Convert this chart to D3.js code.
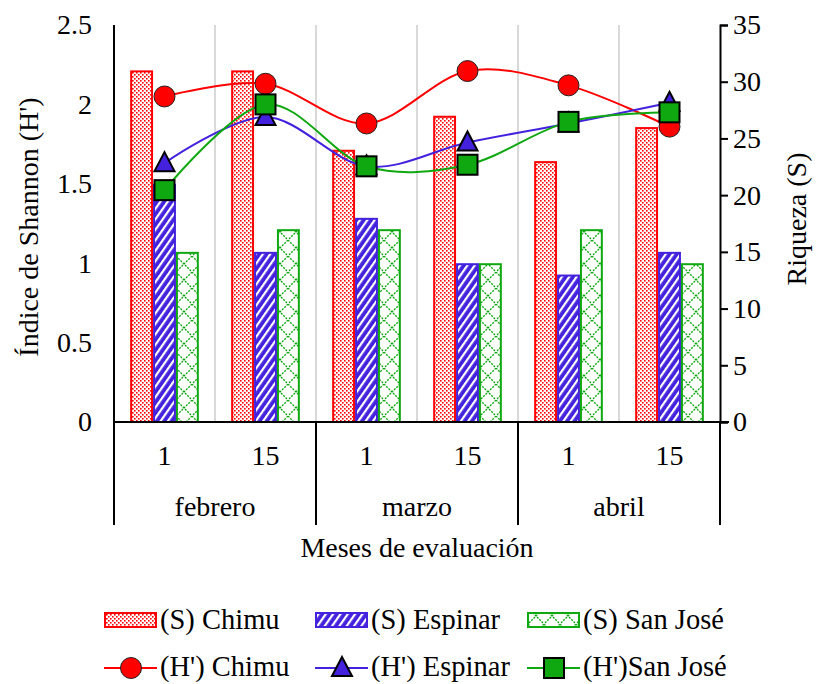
<!DOCTYPE html>
<html><head><meta charset="utf-8">
<script src="https://cdn.jsdelivr.net/npm/d3@7"></script>
</head><body style="margin:0"><svg id="c" width="818" height="684" style="font-family:'Liberation Serif'"></svg>
<script>
const dates = ["1","15","1","15","1","15"];
const months = ["febrero","marzo","abril"];
const seriesNames = ["Chimu","Espinar","San José"];
const S_chimu   = [31, 31, 24, 27, 23, 26];
const S_espinar = [21, 15, 18, 14, 13, 15];
const S_sanjose = [15, 17, 17, 14, 17, 14];
const H_chimu   = [2.05, 2.13, 1.88, 2.21, 2.12, 1.86];
const H_espinar = [1.63, 1.92, 1.61, 1.76, 1.88, 2.01];
const H_sanjose = [1.46, 2.00, 1.61, 1.62, 1.89, 1.95];
const leftTicks = [0,0.5,1,1.5,2,2.5];
const rightTicks = [0,5,10,15,20,25,30,35];

const FONT = "'Liberation Serif'";
const FS = 28;
const RED="#FF0000", BLUE="#4422DD", GREEN="#10A810";
const svg = d3.select("#c");
const L=114, R=720, T=25, B=422;
const idx = d3.range(6);
const x = d3.scaleBand().domain(idx).range([L,R]).paddingInner(0.32).paddingOuter(0.16);
const xg = d3.scaleBand().domain(idx).range([L,R]);
const xi = d3.scaleBand().domain([0,1,2]).range([0,x.bandwidth()]);
const yL = d3.scaleLinear().domain([0,2.5]).range([B,T]);
const yR = d3.scaleLinear().domain([0,35]).range([B,T]);

function txt(sel,fs){ return sel.attr("font-family","Liberation Serif").style("font-family",FONT).style("font-size",(fs||FS)+"px").attr("fill","#000"); }

// patterns
const defs = svg.append("defs");
const p1 = defs.append("pattern").attr("id","pDots").attr("patternUnits","userSpaceOnUse").attr("width",4).attr("height",4);
p1.append("rect").attr("width",4).attr("height",4).attr("fill","#fff");
p1.append("rect").attr("x",0).attr("y",0).attr("width",1.6).attr("height",1.6).attr("fill",RED);
p1.append("rect").attr("x",2).attr("y",2).attr("width",1.6).attr("height",1.6).attr("fill",RED);
const p2 = defs.append("pattern").attr("id","pDiag").attr("patternUnits","userSpaceOnUse").attr("width",6).attr("height",6).attr("patternTransform","rotate(35)");
p2.append("rect").attr("width",6).attr("height",6).attr("fill",BLUE);
p2.append("rect").attr("x",0).attr("y",0).attr("width",2.2).attr("height",6).attr("fill","#fff");
const p3 = defs.append("pattern").attr("id","pLat").attr("patternUnits","userSpaceOnUse").attr("width",16).attr("height",16);
p3.append("rect").attr("width",16).attr("height",16).attr("fill","#fff");
p3.append("path").attr("d","M0,0L16,16M16,0L0,16").attr("stroke",GREEN).attr("stroke-width",1.3).attr("stroke-dasharray","2,1.2").attr("fill","none");
const fills=["url(#pDots)","url(#pDiag)","url(#pLat)"], strokes=[RED,BLUE,GREEN];

// gridlines
svg.append("g").selectAll("line").data(d3.range(1,6)).join("line")
  .attr("x1",d=>xg(d)).attr("x2",d=>xg(d)).attr("y1",T).attr("y2",B)
  .attr("stroke","#D9D9D9").attr("stroke-width",2);

// bars
const Sdata=[S_chimu,S_espinar,S_sanjose];
Sdata.forEach((arr,s)=>{
  svg.append("g").selectAll("rect").data(arr).join("rect")
    .attr("x",(d,i)=>x(i)+xi(s)+1).attr("y",d=>yR(d)+1)
    .attr("width",xi.bandwidth()-2).attr("height",d=>B-yR(d)-1)
    .attr("fill",fills[s]).attr("stroke",strokes[s]).attr("stroke-width",2);
});

// axes
const ax = svg.append("g").attr("stroke","#000").attr("stroke-width",2);
ax.append("line").attr("x1",L).attr("x2",R+9).attr("y1",B).attr("y2",B);
ax.append("line").attr("x1",L).attr("x2",L).attr("y1",T).attr("y2",B);
[0,2,4,6].forEach(i=>{
  const xx = i<6 ? xg(i) : R;
  ax.append("line").attr("x1",xx).attr("x2",xx).attr("y1",B).attr("y2",525);
});
const rAxis = d3.axisRight(yR).tickValues(rightTicks).tickSize(8).tickPadding(5).tickFormat(d3.format("d"));
const rg = svg.append("g").attr("transform",`translate(${R},0)`).call(rAxis);
rg.attr("font-family","Liberation Serif").attr("font-size",FS);
rg.select(".domain").attr("stroke","#000").attr("stroke-width",2);
rg.selectAll(".tick line").attr("stroke","#000").attr("stroke-width",2);
txt(rg.selectAll("text"));
const lAxis = d3.axisLeft(yL).tickValues(leftTicks).tickSize(0).tickPadding(22).tickFormat(d=>String(d));
const lg = svg.append("g").attr("transform",`translate(${L},0)`).call(lAxis);
lg.attr("font-family","Liberation Serif").attr("font-size",FS);
lg.select(".domain").remove();
txt(lg.selectAll("text"));

// category labels
txt(svg.append("g").selectAll("text").data(dates).join("text")
  .attr("x",(d,i)=>xg(i)+xg.bandwidth()/2).attr("y",465).attr("text-anchor","middle").text(d=>d));
txt(svg.append("g").selectAll("text").data(months).join("text")
  .attr("x",(d,i)=>xg(i*2)+xg.bandwidth()).attr("y",516).attr("text-anchor","middle").text(d=>d));
txt(svg.append("text").attr("x",(L+R)/2).attr("y",557).attr("text-anchor","middle").text("Meses de evaluación"));
txt(svg.append("text").attr("transform","translate(38,227) rotate(-90)").attr("text-anchor","middle").text("Índice de Shannon (H')"));
txt(svg.append("text").attr("transform","translate(806,219) rotate(-90)").attr("text-anchor","middle").text("Riqueza (S)"));

// lines
const Hdata=[H_chimu,H_espinar,H_sanjose];
const line = d3.line().x((d,i)=>xg(i)+xg.bandwidth()/2).y(d=>yL(d)).curve(d3.curveCardinal.tension(0));
function marker(g,s,cx,cy){
  if(s===0) g.append("circle").attr("cx",cx).attr("cy",cy).attr("r",10.5).attr("fill",RED).attr("stroke","#222").attr("stroke-width",1);
  else if(s===1) g.append("path").attr("d",`M${cx},${cy-11}L${cx+10},${cy+8}L${cx-10},${cy+8}Z`).attr("fill",BLUE).attr("stroke","#000").attr("stroke-width",2);
  else g.append("rect").attr("x",cx-10).attr("y",cy-10).attr("width",20).attr("height",20).attr("fill",GREEN).attr("stroke","#000").attr("stroke-width",2);
}
Hdata.forEach((arr,s)=>{
  const g=svg.append("g");
  g.append("path").attr("d",line(arr)).attr("fill","none").attr("stroke",strokes[s]).attr("stroke-width",2);
  arr.forEach((d,i)=>marker(g,s,xg(i)+xg.bandwidth()/2,yL(d)));
});

// legend
const legX=[104,315,527];
const lgd=svg.append("g");
seriesNames.forEach((n,s)=>{
  lgd.append("rect").attr("x",legX[s]+1).attr("y",613).attr("width",51).attr("height",14).attr("fill",fills[s]).attr("stroke",strokes[s]).attr("stroke-width",2);
  txt(lgd.append("text").attr("x",legX[s]+56).attr("y",629).text("(S) "+n),28.5);
  lgd.append("line").attr("x1",legX[s]).attr("x2",legX[s]+53).attr("y1",668).attr("y2",668).attr("stroke",strokes[s]).attr("stroke-width",2);
  marker(lgd,s,legX[s]+27,668);
  txt(lgd.append("text").attr("x",legX[s]+56).attr("y",676).text(s===2?"(H')San José":"(H') "+n),28.5);
});
</script></body></html>
